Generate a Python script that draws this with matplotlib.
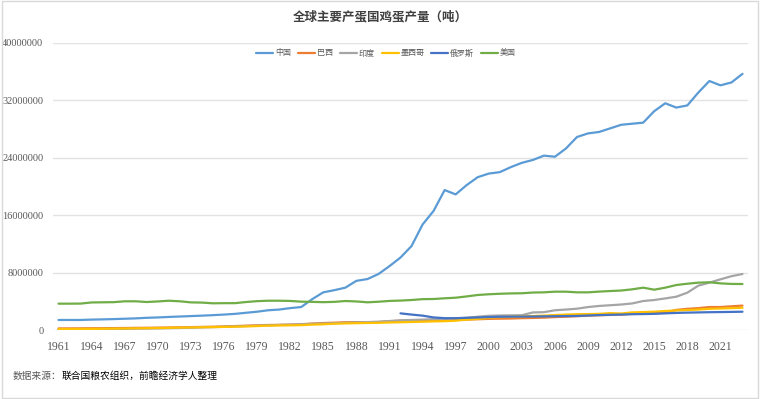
import matplotlib
matplotlib.use('Agg')
import matplotlib.pyplot as plt
from matplotlib.patches import Rectangle

plt.rcParams['font.family'] = ['Noto Sans CJK SC', 'DejaVu Sans']

# years 1961-2023, production in million tonnes
years = list(range(1961, 2024))
scale = 1e6

china = [1.40, 1.40, 1.40, 1.45, 1.48, 1.52, 1.57, 1.62, 1.70, 1.75,
         1.82, 1.88, 1.94, 2.00, 2.07, 2.15, 2.25, 2.40, 2.55, 2.75,
         2.85, 3.05, 3.20, 4.30, 5.25, 5.55, 5.90, 6.85, 7.10, 7.80,
         8.90, 10.10, 11.70, 14.70, 16.60, 19.50, 18.90, 20.20, 21.30, 21.80,
         22.00, 22.70, 23.30, 23.70, 24.30, 24.15, 25.30, 26.90, 27.40, 27.60,
         28.10, 28.60, 28.75, 28.90, 30.50, 31.60, 31.00, 31.30, 33.10, 34.70,
         34.10, 34.50, 35.70]
brazil = [0.22, 0.22, 0.23, 0.24, 0.25, 0.27, 0.28, 0.30, 0.31, 0.33,
          0.35, 0.37, 0.40, 0.43, 0.46, 0.50, 0.55, 0.60, 0.65, 0.70,
          0.72, 0.75, 0.80, 0.90, 0.97, 1.02, 1.08, 1.10, 1.08, 1.10,
          1.22, 1.30, 1.33, 1.38, 1.40, 1.40, 1.42, 1.45, 1.50, 1.55,
          1.58, 1.60, 1.65, 1.68, 1.72, 1.80, 1.85, 1.92, 2.00, 2.05,
          2.10, 2.15, 2.25, 2.30, 2.40, 2.45, 2.80, 2.95, 3.05, 3.20,
          3.20, 3.30, 3.40]
india = [0.10, 0.11, 0.12, 0.13, 0.14, 0.15, 0.16, 0.18, 0.20, 0.22,
         0.25, 0.28, 0.32, 0.36, 0.40, 0.45, 0.50, 0.55, 0.60, 0.65,
         0.70, 0.75, 0.80, 0.85, 0.90, 0.95, 1.00, 1.05, 1.10, 1.16,
         1.25, 1.35, 1.40, 1.45, 1.50, 1.55, 1.60, 1.70, 1.85, 1.98,
         2.02, 2.04, 2.06, 2.45, 2.48, 2.75, 2.85, 2.97, 3.20, 3.35,
         3.45, 3.55, 3.70, 4.04, 4.18, 4.40, 4.64, 5.20, 6.18, 6.60,
         7.06, 7.50, 7.80]
mexico = [0.12, 0.13, 0.14, 0.15, 0.17, 0.19, 0.21, 0.23, 0.25, 0.27,
          0.30, 0.33, 0.35, 0.38, 0.40, 0.43, 0.46, 0.50, 0.55, 0.60,
          0.63, 0.65, 0.68, 0.75, 0.80, 0.88, 0.92, 0.95, 0.98, 1.00,
          1.05, 1.08, 1.12, 1.15, 1.20, 1.23, 1.30, 1.45, 1.55, 1.70,
          1.80, 1.85, 1.90, 1.95, 2.00, 2.08, 2.15, 2.20, 2.22, 2.25,
          2.35, 2.30, 2.45, 2.50, 2.55, 2.65, 2.72, 2.78, 2.85, 2.95,
          3.00, 3.05, 3.10]
# Russia only from 1992
russia = [None] * 31 + [2.32, 2.15, 2.00, 1.75, 1.65, 1.65, 1.70, 1.75, 1.80,
                        1.85, 1.86, 1.87, 1.88, 1.90, 1.92, 1.94, 1.96, 2.02, 2.08,
                        2.12, 2.15, 2.20, 2.22, 2.25, 2.32, 2.38, 2.42, 2.45, 2.48,
                        2.50, 2.52, 2.55]
usa = [3.67, 3.67, 3.68, 3.84, 3.86, 3.88, 4.00, 4.00, 3.90, 3.98,
       4.08, 4.00, 3.85, 3.82, 3.72, 3.74, 3.74, 3.90, 4.02, 4.08,
       4.08, 4.05, 3.95, 3.92, 3.88, 3.92, 4.04, 3.98, 3.86, 3.94,
       4.05, 4.10, 4.18, 4.30, 4.32, 4.42, 4.50, 4.68, 4.88, 4.98,
       5.05, 5.10, 5.12, 5.22, 5.25, 5.34, 5.34, 5.25, 5.25, 5.35,
       5.43, 5.50, 5.67, 5.90, 5.62, 5.90, 6.27, 6.45, 6.60, 6.65,
       6.50, 6.42, 6.41]

names = ['中国', '巴西', '印度', '墨西哥', '俄罗斯', '美国']
colors = ['#5B9BD5', '#ED7D31', '#A5A5A5', '#FFC000', '#4472C4', '#70AD47']
series = [china, brazil, india, mexico, russia, usa]

fig = plt.figure(figsize=(7.6, 3.99), dpi=100)
ax = fig.add_axes([53 / 760, 1 - 330 / 399, 695 / 760, 287 / 399])

x = list(range(len(years)))
for name, col, vals in zip(names, colors, series):
    xs = [i for i, v in zip(x, vals) if v is not None]
    ys = [v * scale for v in vals if v is not None]
    ax.plot(xs, ys, color=col, lw=1.6, label=name, solid_capstyle='round')

ax.set_xlim(-0.5, len(years) - 0.5)
ax.set_ylim(0, 40000000)
ax.set_yticks([0, 8000000, 16000000, 24000000, 32000000, 40000000])
ax.set_yticklabels(['0', '8000000', '16000000', '24000000', '32000000', '40000000'],
                   family='Liberation Serif', fontsize=7.5, color='#595959')
ax.set_xticks(x[::3])
ax.set_xticklabels([str(y) for y in years[::3]],
                   family='Liberation Serif', fontsize=8.5, color='#595959')
ax.tick_params(axis='both', length=0)
ax.tick_params(axis='y', pad=7)
ax.tick_params(axis='x', pad=8)
ax.grid(axis='y', color='#E3E3E3', lw=1)
ax.set_axisbelow(True)
for s in ax.spines.values():
    s.set_visible(False)

fig.text(0.5, 1 - 17 / 399, '全球主要产蛋国鸡蛋产量（吨）', ha='center', va='center',
         fontsize=9, fontweight='bold', color='#404040')
fig.legend(loc='center', bbox_to_anchor=(386 / 760, 1 - 53 / 399), ncol=6,
           frameon=False, fontsize=5.8, handlelength=2.1, columnspacing=0.9,
           handletextpad=0.2, labelcolor='#595959')

fig.text(13 / 760, 1 - 376 / 399, '数据来源：', ha='left', va='center',
         fontsize=7, color='#595959')
fig.text(62 / 760, 1 - 376 / 399, '联合国粮农组织，前瞻经济学人整理', ha='left', va='center',
         fontsize=7, color='#000000')

fig.patches.append(Rectangle((0.002, 0.003), 0.995, 0.994, transform=fig.transFigure,
                             fill=False, edgecolor='#D9D9D9', lw=1))

fig.savefig('out.png', dpi=100)
